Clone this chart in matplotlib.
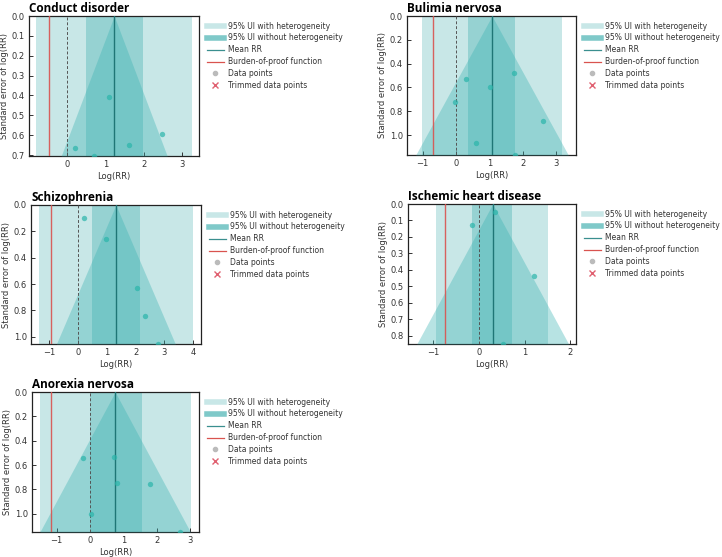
import matplotlib
matplotlib.use("Agg")
import matplotlib.pyplot as plt
from matplotlib.lines import Line2D
import numpy as np

# ---------------- data ----------------
titles = ["Conduct disorder", "Bulimia nervosa", "Schizophrenia",
          "Ischemic heart disease", "Anorexia nervosa"]
mean_rr = [1.23, 1.08, 1.31, 0.30, 0.75]
ui_het_lo = [-0.80, -1.02, -1.37, -0.94, -1.51]
ui_het_hi = [3.25, 3.17, 3.98, 1.51, 3.03]
ui_lo = [0.49, 0.36, 0.48, -0.15, 0.00]
ui_hi = [1.97, 1.77, 2.14, 0.72, 1.54]
bprf = [-0.48, -0.69, -0.93, -0.75, -1.17]

pts_x = [
    [1.09, 2.47, 1.61, 0.22, 0.70],
    [0.30, 1.74, 1.01, -0.02, 2.61, 0.60, 1.77],
    [0.19, 0.96, 2.06, 2.32, 2.76],
    [0.34, -0.15, 1.20, 0.53],
    [-0.20, 0.72, 0.81, 1.79, 0.02, 2.69],
]
pts_se = [
    [0.406, 0.594, 0.650, 0.666, 0.705],
    [0.530, 0.479, 0.600, 0.725, 0.882, 1.064, 1.168],
    [0.096, 0.256, 0.628, 0.845, 1.055],
    [0.049, 0.126, 0.440, 0.851],
    [0.543, 0.534, 0.748, 0.759, 1.003, 1.150],
]
xlims = [(-0.99, 3.44), (-1.47, 3.60), (-1.64, 4.27), (-1.56, 2.13), (-1.74, 3.26)]
xticks = [[0, 1, 2, 3], [-1, 0, 1, 2, 3], [-1, 0, 1, 2, 3, 4], [-1, 0, 1, 2], [-1, 0, 1, 2, 3]]
yticks = [np.arange(0, 0.71, 0.1), np.arange(0, 1.01, 0.2), np.arange(0, 1.01, 0.2),
          np.arange(0, 0.81, 0.1), np.arange(0, 1.01, 0.2)]
legend_labels = ["95% UI with heterogeneity", "95% UI without heterogeneity",
                 "Mean RR", "Burden-of-proof function", "Data points",
                 "Trimmed data points"]

# axes boxes in pixels: left, right, top, bottom
boxes = [(29, 199, 16, 156), (407, 576, 16, 155), (31, 201, 205, 344),
         (408, 576, 204, 344), (32, 199, 392, 532)]

W, H = 722, 557
fig = plt.figure(figsize=(W / 100, H / 100), dpi=100)

c_light = "#c8e7e7"
c_dark = "#96d2d2"
c_funnel = "#38b2b2"
c_mean = "#1f7676"
c_red = "#d9534f"
c_pt = "#2ab5aa"

for i in range(5):
    l, r, t, b = boxes[i]
    ax = fig.add_axes([l / W, 1 - b / H, (r - l) / W, (b - t) / H])
    semax = max(pts_se[i])
    m = mean_rr[i]
    ax.axvspan(ui_het_lo[i], ui_het_hi[i], color=c_light, lw=0, zorder=1)
    ax.axvspan(ui_lo[i], ui_hi[i], color=c_dark, lw=0, zorder=2)
    ax.fill_betweenx([0, semax], [m, m - 1.96 * semax], [m, m + 1.96 * semax],
                     color=c_funnel, alpha=0.36, lw=0, zorder=3)
    ax.axvline(0, color="#555555", lw=0.7, ls=(0, (3, 2)), zorder=4)
    ax.axvline(m, color=c_mean, lw=1.0, zorder=5)
    ax.axvline(bprf[i], color=c_red, lw=1.0, alpha=0.9, zorder=5)
    ax.scatter(pts_x[i], pts_se[i], s=15, color=c_pt, alpha=0.7, lw=0, zorder=6)
    ax.set_xlim(*xlims[i])
    ax.set_ylim(semax, 0)
    ax.set_xticks(xticks[i])
    ax.set_yticks(yticks[i])
    ax.set_yticklabels([f"{v:.1f}" for v in yticks[i]])
    ax.tick_params(direction="in", length=3, width=0.7, labelsize=6,
                   colors="#333333", pad=3)
    for s in ax.spines.values():
        s.set_linewidth(0.9)
        s.set_color("#222222")
    ax.set_xlabel("Log(RR)", fontsize=6, color="#333333", labelpad=2)
    ax.set_ylabel("Standard error of log(RR)", fontsize=6, color="#333333", labelpad=2)
    ax.set_title(titles[i], loc="left", fontsize=8.5, fontweight="bold",
                 family="Open Sans", pad=3)

    handles = [
        Line2D([], [], color=c_light, lw=4),
        Line2D([], [], color="#7fc9c9", lw=4),
        Line2D([], [], color="#3a8f8f", lw=0.9),
        Line2D([], [], color=c_red, lw=0.9),
        Line2D([], [], color="#bbbbbb", marker="o", ls="none", markersize=3),
        Line2D([], [], color="#e06070", marker="x", ls="none", markersize=4),
    ]
    fig.legend(handles, legend_labels, loc="upper left",
               bbox_to_anchor=((r + 6) / W, 1 - (t + 4) / H),
               frameon=False, fontsize=5.5, handlelength=2.3, handletextpad=0.5,
               labelspacing=0.38, borderaxespad=0, borderpad=0.2,
               labelcolor="#333333")

fig.savefig("out.png", dpi=100)
